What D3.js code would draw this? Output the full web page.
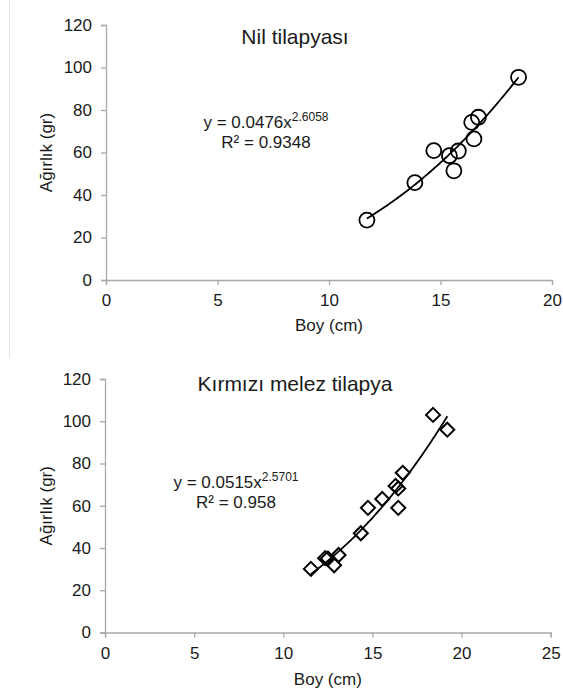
<!DOCTYPE html>
<html><head><meta charset="utf-8">
<script src="https://cdn.jsdelivr.net/npm/d3@7"></script>
<style>
html,body{margin:0;padding:0;background:#fff;}
text{font-family:"Liberation Sans",Arial,sans-serif;fill:#1a1a1a;}
</style></head>
<body>
<svg id="chart" width="563" height="695"></svg>
<script>
// ---- data ----
const nileLength = [11.7, 13.85, 14.7, 15.4, 15.6, 15.8, 16.4, 16.5, 16.7, 18.5];
const nileWeight = [28.2, 45.8, 60.9, 58.5, 51.4, 60.7, 74.2, 66.4, 76.6, 95.4];
const redLength = [11.55, 12.35, 12.5, 12.85, 13.1, 14.35, 14.75, 15.55, 16.3, 16.45, 16.45, 16.7, 18.4, 19.2];
const redWeight = [30.1, 35.2, 35.0, 31.8, 36.7, 47.0, 59.0, 63.2, 69.4, 68.2, 59.0, 75.6, 103.0, 96.0];
const yTicks = [0, 20, 40, 60, 80, 100, 120];
const xTicksTop = [0, 5, 10, 15, 20];
const xTicksBottom = [0, 5, 10, 15, 20, 25];
const nileFit = {a: 0.0476, b: 2.6058, r2: "0.9348", from: 11.7, to: 18.5};
const redFit = {a: 0.0515, b: 2.5701, r2: "0.958", from: 11.55, to: 19.2};
const titles = ["Nil tilapyası", "Kırmızı melez tilapya"];
const xLabel = "Boy (cm)";
const yLabel = "Ağırlık (gr)";

const svg = d3.select("#chart");
const axisColor = "#a9a9a9";

// faint left border line
svg.append("line").attr("x1", 9.5).attr("x2", 9.5).attr("y1", 0).attr("y2", 358)
  .attr("stroke", "#e4e4e4").attr("stroke-width", 1);

function panel(cfg) {
  const x = d3.scaleLinear().domain([0, cfg.xMax]).range([cfg.left, cfg.right]);
  const y = d3.scaleLinear().domain([0, 120]).range([cfg.bottom, cfg.top]);
  const g = svg.append("g");

  // axes
  const xa = g.append("g").attr("transform", `translate(0,${cfg.bottom})`)
    .call(d3.axisBottom(x).tickValues(cfg.xTicks).tickSize(5).tickPadding(9).tickFormat(d3.format("d")));
  const ya = g.append("g").attr("transform", `translate(${cfg.left},0)`)
    .call(d3.axisLeft(y).tickValues(yTicks).tickSize(5).tickPadding(9).tickFormat(d3.format("d")));
  [xa, ya].forEach(a => {
    a.select(".domain").attr("stroke", axisColor).attr("stroke-width", 1.3);
    a.selectAll(".tick line").attr("stroke", axisColor).attr("stroke-width", 1.3);
    a.selectAll(".tick text").attr("font-size", 17).attr("fill", "#1a1a1a")
      .attr("font-family", '"Liberation Sans",Arial,sans-serif');
  });

  // title
  g.append("text").attr("x", cfg.titleX).attr("y", cfg.titleY).attr("text-anchor", "middle")
    .attr("font-size", 21).text(cfg.title);
  // axis labels
  g.append("text").attr("x", (cfg.left + cfg.right) / 2).attr("y", cfg.xLabelY)
    .attr("text-anchor", "middle").attr("font-size", 17).text(xLabel);
  g.append("text").attr("transform", `translate(${cfg.yLabelX},${(cfg.top + cfg.bottom) / 2}) rotate(-90)`)
    .attr("text-anchor", "middle").attr("font-size", 17).text(yLabel);

  // trend line
  const fit = cfg.fit;
  const xs = d3.range(0, 101).map(i => fit.from + (fit.to - fit.from) * i / 100);
  g.append("path").datum(xs)
    .attr("d", d3.line().x(d => x(d)).y(d => y(fit.a * Math.pow(d, fit.b))))
    .attr("fill", "none").attr("stroke", "#000").attr("stroke-width", 1.8);

  // points
  const pts = cfg.xs.map((v, i) => [v, cfg.ys[i]]);
  if (cfg.shape === "circle") {
    g.selectAll("circle.pt").data(pts).join("circle").attr("class", "pt")
      .attr("cx", d => x(d[0])).attr("cy", d => y(d[1])).attr("r", 7.5)
      .attr("fill", "none").attr("stroke", "#000").attr("stroke-width", 1.8);
  } else {
    const s = 7;
    g.selectAll("path.pt").data(pts).join("path").attr("class", "pt")
      .attr("d", d => { const cx = x(d[0]), cy = y(d[1]);
        return `M${cx},${cy - s}L${cx + s},${cy}L${cx},${cy + s}L${cx - s},${cy}Z`; })
      .attr("fill", "none").attr("stroke", "#000").attr("stroke-width", 2);
  }

  // equation
  const eq = g.append("text").attr("x", cfg.eqX).attr("y", cfg.eqY).attr("text-anchor", "middle").attr("font-size", 17);
  eq.append("tspan").text(`y = ${fit.a}x`);
  eq.append("tspan").attr("font-size", 12).attr("dy", -7).text(fit.b.toFixed(4));
  g.append("text").attr("x", cfg.eqX).attr("y", cfg.eqY + 20).attr("text-anchor", "middle")
    .attr("font-size", 17).text(`R² = ${fit.r2}`);
}

panel({left: 106, right: 552, top: 25, bottom: 280, xMax: 20, xTicks: xTicksTop,
  title: titles[0], titleX: 295, titleY: 44, xLabelY: 331, yLabelX: 52,
  fit: nileFit, xs: nileLength, ys: nileWeight, shape: "circle", eqX: 266, eqY: 128});

panel({left: 105, right: 550.7, top: 379, bottom: 632.5, xMax: 25, xTicks: xTicksBottom,
  title: titles[1], titleX: 295, titleY: 391, xLabelY: 685, yLabelX: 52,
  fit: redFit, xs: redLength, ys: redWeight, shape: "diamond", eqX: 236, eqY: 488});
</script>
</body></html>
